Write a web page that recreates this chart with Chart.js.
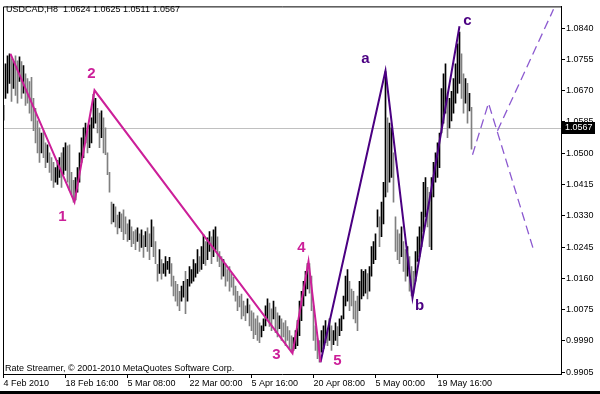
<!DOCTYPE html>
<html>
<head>
<meta charset="utf-8">
<script src="https://cdn.jsdelivr.net/npm/chart.js@4.4.0/dist/chart.umd.min.js"></script>
<style>
  html, body { margin: 0; padding: 0; background: #fff; }
  #wrap { width: 600px; height: 394px; }
</style>
</head>
<body>
<div id="wrap"><canvas id="chart" width="600" height="394"></canvas></div>
<script>
'use strict';

// DATA
const symbolTitle = 'USDCAD,H8';
const lastBar = [1.0624, 1.0625, 1.0511, 1.0567]; // open, high, low, close
const copyright = 'Rate Streamer, \u00a9 2001-2010 MetaQuotes Software Corp.';

const highs = [
  1.0630, 1.0743, 1.0765, 1.0770, 1.0757, 1.0749, 1.0765, 1.0751, 1.0762, 1.0749, 1.0738, 1.0716, 1.0703, 1.0695, 1.0706, 1.0649,
  1.0622, 1.0588, 1.0569, 1.0555, 1.0561, 1.0528, 1.0523, 1.0501, 1.0488, 1.0475, 1.0461, 1.0480, 1.0488, 1.0501, 1.0515, 1.0528, 1.0520, 1.0523, 1.0448, 1.0426, 1.0434,
  1.0461, 1.0501, 1.0542, 1.0569, 1.0582, 1.0561, 1.0577, 1.0596, 1.0660, 1.0649,
  1.0622, 1.0609, 1.0615, 1.0596, 1.0569, 1.0501, 1.0448, 1.0367, 1.0362, 1.0354, 1.0332, 1.0340, 1.0335, 1.0346, 1.0327, 1.0308,
  1.0319, 1.0300, 1.0287, 1.0292, 1.0297, 1.0281, 1.0292, 1.0276, 1.0287, 1.0297, 1.0281, 1.0319, 1.0300, 1.0260, 1.0198, 1.0238,
  1.0211, 1.0200, 1.0219, 1.0206, 1.0217, 1.0200, 1.0166, 1.0152, 1.0144, 1.0125, 1.0139, 1.0152, 1.0179, 1.0157, 1.0192, 1.0184,
  1.0211, 1.0200, 1.0238, 1.0219, 1.0246, 1.0278, 1.0260, 1.0270, 1.0287, 1.0273, 1.0292, 1.0300, 1.0273, 1.0233, 1.0219, 1.0211,
  1.0200, 1.0184, 1.0192, 1.0173, 1.0163, 1.0139, 1.0125, 1.0112, 1.0117, 1.0098, 1.0085, 1.0104, 1.0088, 1.0072, 1.0066, 1.0050,
  1.0058, 1.0039, 1.0031, 1.0050, 1.0085, 1.0104, 1.0093, 1.0077, 1.0098, 1.0082, 1.0066, 1.0058, 1.0050, 1.0039, 1.0045, 1.0029,
  1.0018, 1.0004,
  0.9999, 1.0018, 1.0045, 1.0098, 1.0125, 1.0152, 1.0179, 1.0200, 1.0200, 1.0166, 1.0085, 1.0031, 0.9996, 0.9991,
  1.0018, 1.0031, 1.0045, 1.0023, 1.0050, 1.0031, 1.0018, 1.0039, 1.0029, 1.0050, 1.0058, 1.0112, 1.0166, 1.0184, 1.0152, 1.0131,
  1.0125, 1.0098, 1.0112, 1.0152, 1.0184, 1.0179, 1.0184, 1.0173, 1.0192, 1.0246, 1.0260, 1.0281, 1.0346, 1.0327, 1.0367, 1.0421, 1.0722,
  1.0596, 1.0582, 1.0569, 1.0501, 1.0327, 1.0292, 1.0281, 1.0300, 1.0260, 1.0238, 1.0246, 1.0219, 1.0192, 1.0179,
  1.0233, 1.0273, 1.0300, 1.0340, 1.0421, 1.0434, 1.0407, 1.0394, 1.0434, 1.0475, 1.0501, 1.0528, 1.0555, 1.0676, 1.0716, 1.0743,
  1.0663, 1.0649, 1.0668, 1.0703, 1.0743, 1.0797, 1.0829, 1.0770, 1.0716, 1.0703, 1.0690, 1.0663, 1.0625
];

const lows = [
  1.0590, 1.0649, 1.0663, 1.0690, 1.0641, 1.0676, 1.0657, 1.0636, 1.0695, 1.0649, 1.0663, 1.0630, 1.0636, 1.0609, 1.0588, 1.0561,
  1.0528, 1.0501, 1.0475, 1.0501, 1.0488, 1.0461, 1.0475, 1.0448, 1.0426, 1.0407, 1.0421, 1.0415, 1.0434, 1.0407, 1.0442, 1.0453, 1.0421, 1.0399, 1.0389, 1.0367, 1.0373,
  1.0394, 1.0421, 1.0475, 1.0488, 1.0528, 1.0501, 1.0515, 1.0528, 1.0569, 1.0582,
  1.0555, 1.0515, 1.0542, 1.0501, 1.0496, 1.0442, 1.0394, 1.0308, 1.0313, 1.0300, 1.0281, 1.0297, 1.0287, 1.0265, 1.0281, 1.0260,
  1.0265, 1.0246, 1.0254, 1.0238, 1.0260, 1.0233, 1.0244, 1.0217, 1.0246, 1.0233, 1.0211, 1.0246, 1.0219, 1.0200, 1.0152, 1.0173,
  1.0158, 1.0173, 1.0166, 1.0184, 1.0173, 1.0139, 1.0112, 1.0098, 1.0085, 1.0072, 1.0098, 1.0109, 1.0064, 1.0098, 1.0139, 1.0147,
  1.0152, 1.0163, 1.0173, 1.0179, 1.0184, 1.0200, 1.0195, 1.0211, 1.0233, 1.0200, 1.0219, 1.0238, 1.0206, 1.0192, 1.0158, 1.0166,
  1.0139, 1.0152, 1.0125, 1.0136, 1.0114, 1.0098, 1.0072, 1.0082, 1.0050, 1.0058, 1.0045, 1.0066, 1.0031, 1.0018, 0.9996, 1.0007,
  0.9991, 0.9985, 1.0001, 1.0018, 1.0031, 1.0045, 1.0029, 1.0018, 1.0050, 1.0012, 1.0001, 1.0023, 0.9991, 1.0001, 0.9977, 0.9991,
  0.9969, 0.9959,
  0.9964, 0.9969, 0.9977, 1.0004, 1.0045, 1.0085, 1.0112, 1.0131, 1.0120, 1.0072, 0.9991, 0.9964, 0.9942, 0.9932,
  0.9959, 0.9969, 0.9985, 0.9977, 0.9991, 0.9964, 0.9980, 0.9991, 0.9977, 1.0004, 1.0018, 1.0050, 1.0085, 1.0098, 1.0072, 1.0085,
  1.0050, 1.0039, 1.0018, 1.0072, 1.0104, 1.0112, 1.0120, 1.0104, 1.0125, 1.0166, 1.0200, 1.0211, 1.0300, 1.0246, 1.0273, 1.0308, 1.0381,
  1.0394, 1.0421, 1.0434, 1.0367, 1.0233, 1.0211, 1.0200, 1.0219, 1.0179, 1.0152, 1.0166, 1.0125, 1.0112, 1.0120,
  1.0152, 1.0206, 1.0219, 1.0246, 1.0287, 1.0327, 1.0300, 1.0246, 1.0238, 1.0381, 1.0421, 1.0434, 1.0461, 1.0555, 1.0582, 1.0609,
  1.0542, 1.0569, 1.0588, 1.0609, 1.0636, 1.0663, 1.0690, 1.0649, 1.0609, 1.0636, 1.0582, 1.0615, 1.0511
];

// time axis: bar index of each date label
const dateTickIdx = [0, 31, 62, 93, 124, 155, 186, 217];
const dateLabels = ['4 Feb 2010', '18 Feb 16:00', '5 Mar 08:00', '22 Mar 00:00', '5 Apr 16:00', '20 Apr 08:00', '5 May 00:00', '19 May 16:00'];

const priceTicks = [0.9905, 0.9990, 1.0075, 1.0160, 1.0245, 1.0330, 1.0415, 1.0500, 1.0585, 1.0670, 1.0755, 1.0840];

// wave count (bar index, price)
const impulseIdx = [3.5, 35.5, 45.5, 144.5, 152.5, 158.5];
const impulsePrice = [1.0770, 1.0367, 1.0671, 0.9956, 1.0206, 0.9932];
const correctionIdx = [158.5, 191, 204.5, 228];
const correctionPrice = [0.9932, 1.0724, 1.0107, 1.0845];
const projZigIdx = [234.5, 242.5, 265];
const projZigPrice = [1.0496, 1.0636, 1.0238];
const projUpIdx = [247, 275];
const projUpPrice = [1.0561, 1.0891];

const waveNames = ['1', '2', '3', '4', '5', 'a', 'b', 'c'];
const waveNameIdx = [29.5, 44, 136.5, 149, 167, 181, 208, 232];
const waveNamePrice = [1.0327, 1.0716, 0.9951, 1.0244, 0.9937, 1.0757, 1.0085, 1.0859];

// COLORS
const magenta = '#cc1f99';
const indigo = '#4b0082';
const lightPurple = '#8c5ad0';

// HELPERS
function barColors() {
  let colors = [];
  for (let i = 0; i < highs.length; i++) {
    let mid = (highs[i] + lows[i]) / 2;
    let prev = i > 0 ? (highs[i - 1] + lows[i - 1]) / 2 : mid;
    colors.push(mid >= prev ? '#000000' : '#808080');
  }
  return colors;
}

function toPoints(xs, ys) {
  return xs.map((x, i) => ({ x: x, y: ys[i] }));
}

let barData = highs.map((h, i) => ({ x: i, y: [lows[i], h] }));

// PLUGINS
const mtFrame = {
  id: 'mtFrame',
  beforeDatasetsDraw(chart) {
    const { ctx, chartArea: a } = chart;
    const y = chart.scales.y.getPixelForValue(lastBar[3]);
    ctx.save();
    ctx.strokeStyle = '#c0c0c0';
    ctx.lineWidth = 1;
    ctx.beginPath();
    ctx.moveTo(a.left, Math.round(y) - 0.5);
    ctx.lineTo(a.right, Math.round(y) - 0.5);
    ctx.stroke();
    ctx.restore();
  },
  afterDraw(chart) {
    const { ctx, chartArea: a } = chart;
    const yScale = chart.scales.y;
    const xScale = chart.scales.x;
    ctx.save();

    // frame
    ctx.strokeStyle = '#000';
    ctx.lineWidth = 1;
    ctx.beginPath();
    ctx.moveTo(a.left + 0.5, a.bottom);
    ctx.lineTo(a.left + 0.5, a.top + 0.5);
    ctx.lineTo(a.right, a.top + 0.5);
    ctx.stroke();
    ctx.fillStyle = '#000';
    ctx.fillRect(0, 391, 600, 3);

    // wave labels
    ctx.font = 'bold 15px "Liberation Sans"';
    ctx.textAlign = 'center';
    ctx.textBaseline = 'middle';
    for (let i = 0; i < waveNames.length; i++) {
      ctx.fillStyle = i < 5 ? magenta : indigo;
      ctx.fillText(waveNames[i], xScale.getPixelForValue(waveNameIdx[i]), yScale.getPixelForValue(waveNamePrice[i]));
    }

    // header and footer text
    ctx.font = '9px "Liberation Sans"';
    ctx.textAlign = 'left';
    ctx.fillStyle = '#000';
    ctx.fillText(symbolTitle + '  ' + lastBar.map(v => v.toFixed(4)).join(' '), 6, 10);
    ctx.fillText(copyright, 5, 369);

    // current price box
    const py = Math.round(yScale.getPixelForValue(lastBar[3]));
    ctx.fillStyle = '#000';
    ctx.fillRect(a.right + 1, py - 7, 33, 12);
    ctx.fillStyle = '#fff';
    ctx.fillText(lastBar[3].toFixed(4), a.right + 4, py - 1);
    ctx.restore();
  }
};

// CHART
Chart.defaults.font.family = '"Liberation Sans", Arial, sans-serif';
Chart.defaults.font.size = 9;
Chart.defaults.color = '#000';

const ctx = document.getElementById('chart');
new Chart(ctx, {
  type: 'bar',
  data: {
    datasets: [
      {
        type: 'line',
        data: toPoints(impulseIdx, impulsePrice),
        borderColor: magenta,
        borderWidth: 2,
        pointRadius: 0,
        tension: 0,
        order: 1
      },
      {
        type: 'line',
        data: toPoints(correctionIdx, correctionPrice),
        borderColor: indigo,
        borderWidth: 2,
        pointRadius: 0,
        tension: 0,
        order: 1
      },
      {
        type: 'line',
        data: toPoints(projZigIdx, projZigPrice),
        borderColor: lightPurple,
        borderWidth: 1.3,
        borderDash: [9, 5],
        pointRadius: 0,
        tension: 0,
        order: 1
      },
      {
        type: 'line',
        data: toPoints(projUpIdx, projUpPrice),
        borderColor: lightPurple,
        borderWidth: 1.3,
        borderDash: [9, 5],
        pointRadius: 0,
        tension: 0,
        order: 1
      },
      {
        type: 'bar',
        data: barData,
        backgroundColor: barColors(),
        barThickness: 1,
        order: 2
      }
    ]
  },
  options: {
    responsive: false,
    animation: false,
    events: [],
    layout: { padding: { left: 3, top: 2, right: 0, bottom: 0 } },
    plugins: {
      legend: { display: false },
      tooltip: { enabled: false },
      title: { display: false }
    },
    scales: {
      x: {
        type: 'linear',
        position: 'bottom',
        min: -0.25,
        max: 278.75,
        offset: false,
        grid: { display: true, drawOnChartArea: false, drawTicks: true, tickLength: 4, color: '#000', offset: false },
        border: { display: true, color: '#000' },
        afterBuildTicks: (scale) => { scale.ticks = dateTickIdx.map(v => ({ value: v })); },
        afterFit: (scale) => { scale.height = 20; },
        ticks: {
          autoSkip: false,
          maxRotation: 0,
          minRotation: 0,
          align: 'start',
          padding: 0,
          callback: (v) => dateLabels[dateTickIdx.indexOf(v)]
        }
      },
      y: {
        type: 'linear',
        position: 'right',
        min: 0.9900,
        max: 1.0899,
        grid: { display: true, drawOnChartArea: false, drawTicks: true, tickLength: 4, color: '#000' },
        border: { display: true, color: '#000' },
        afterBuildTicks: (scale) => { scale.ticks = priceTicks.map(v => ({ value: v })); },
        afterFit: (scale) => { scale.width = 39; },
        ticks: {
          padding: 1,
          callback: (v) => v.toFixed(4)
        }
      }
    }
  },
  plugins: [mtFrame]
});
</script>
</body>
</html>
